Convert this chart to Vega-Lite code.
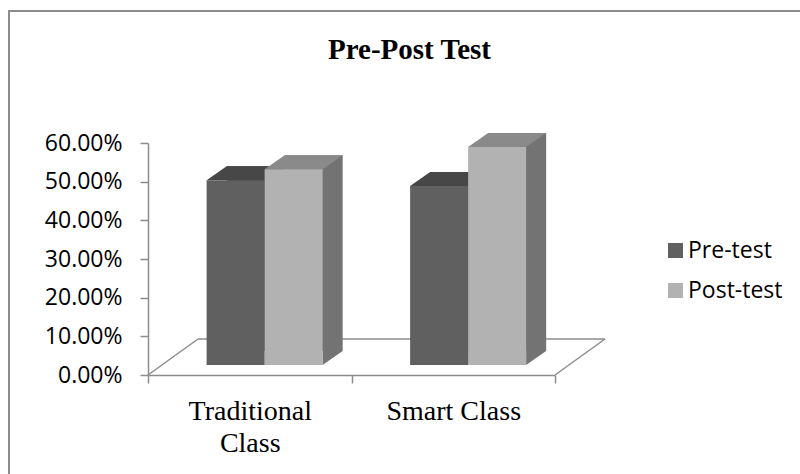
{
  "$schema": "https://vega.github.io/schema/vega-lite/v6.json",
  "width": 407,
  "height": 232,
  "autosize": "none",
  "padding": {"left": 148, "top": 143, "right": 245, "bottom": 99},
  "background": "white",
  "title": {"text": "Pre-Post Test", "font": "Liberation Serif", "fontSize": 29, "fontWeight": "bold", "color": "black", "anchor": "middle", "frame": "group", "dx": 58, "baseline": "alphabetic", "offset": -78},
  "config": {"view": {"stroke": null}, "axis": {"grid": false}},
  "data": {"values": [
    {"cat": "Traditional Class", "series": "Pre-test", "value": 0.478},
    {"cat": "Traditional Class", "series": "Post-test", "value": 0.506},
    {"cat": "Smart Class", "series": "Pre-test", "value": 0.463},
    {"cat": "Smart Class", "series": "Post-test", "value": 0.564}
  ]},
  "resolve": {"scale": {"x": "independent"}},
  "layer": [
    {
      "data": {"values": [{}]},
      "layer": [
        {
          "mark": {"type": "rect", "fill": "transparent", "stroke": "#8c8c8c", "strokeWidth": 2, "xOffset": -139, "x2Offset": 400, "yOffset": -132, "y2Offset": 200},
          "encoding": {
            "x": {"datum": 0, "type": "quantitative", "scale": {"domain": [0, 1]}, "axis": null},
            "x2": {"datum": 1},
            "y": {"datum": 0.6, "type": "quantitative", "scale": {"domain": [0, 0.6]},
              "axis": {"title": null, "format": ".2%", "values": [0, 0.1, 0.2, 0.3, 0.4, 0.5, 0.6], "labelOverlap": false, "labelFont": "Open Sans", "labelFontSize": 23, "labelColor": "black", "tickSize": 8, "tickColor": "#8c8c8c", "domainColor": "#8c8c8c", "domainWidth": 1.5, "tickWidth": 1.5, "labelPadding": 18}},
            "y2": {"datum": 0}
          }
        },
        {
          "mark": {"type": "rule", "color": "#8c8c8c", "strokeWidth": 1.5, "xOffset": 50, "x2Offset": 50, "yOffset": -36},
          "encoding": {
            "x": {"datum": 0, "type": "quantitative", "scale": {"domain": [0, 1]}, "axis": null},
            "x2": {"datum": 1},
            "y": {"datum": 0, "type": "quantitative", "scale": {"domain": [0, 0.6]},
              "axis": {"title": null, "format": ".2%", "values": [0, 0.1, 0.2, 0.3, 0.4, 0.5, 0.6], "labelOverlap": false, "labelFont": "Open Sans", "labelFontSize": 23, "labelColor": "black", "tickSize": 8, "tickColor": "#8c8c8c", "domainColor": "#8c8c8c", "domainWidth": 1.5, "tickWidth": 1.5, "labelPadding": 18}}
          }
        },
        {
          "mark": {"type": "rule", "color": "#8c8c8c", "strokeWidth": 1.5, "x2Offset": 50, "y2Offset": -36},
          "encoding": {
            "x": {"datum": 0, "type": "quantitative", "scale": {"domain": [0, 1]}, "axis": null},
            "x2": {"datum": 0},
            "y": {"datum": 0, "type": "quantitative", "scale": {"domain": [0, 0.6]},
              "axis": {"title": null, "format": ".2%", "values": [0, 0.1, 0.2, 0.3, 0.4, 0.5, 0.6], "labelOverlap": false, "labelFont": "Open Sans", "labelFontSize": 23, "labelColor": "black", "tickSize": 8, "tickColor": "#8c8c8c", "domainColor": "#8c8c8c", "domainWidth": 1.5, "tickWidth": 1.5, "labelPadding": 18}},
            "y2": {"datum": 0}
          }
        },
        {
          "mark": {"type": "rule", "color": "#8c8c8c", "strokeWidth": 1.5, "x2Offset": 50, "y2Offset": -36},
          "encoding": {
            "x": {"datum": 1, "type": "quantitative", "scale": {"domain": [0, 1]}, "axis": null},
            "x2": {"datum": 1},
            "y": {"datum": 0, "type": "quantitative", "scale": {"domain": [0, 0.6]},
              "axis": {"title": null, "format": ".2%", "values": [0, 0.1, 0.2, 0.3, 0.4, 0.5, 0.6], "labelOverlap": false, "labelFont": "Open Sans", "labelFontSize": 23, "labelColor": "black", "tickSize": 8, "tickColor": "#8c8c8c", "domainColor": "#8c8c8c", "domainWidth": 1.5, "tickWidth": 1.5, "labelPadding": 18}},
            "y2": {"datum": 0}
          }
        }
      ]
    },
    {
      "resolve": {"scale": {"xOffset": "independent"}},
      "encoding": {
        "x": {"field": "cat", "type": "nominal", "sort": ["Traditional Class", "Smart Class"], "scale": {"paddingInner": 0, "paddingOuter": 0},
          "axis": {"title": null, "labelFont": "Liberation Serif", "labelFontSize": 28, "labelColor": "black", "labelAngle": 0, "tickBand": "extent", "tickSize": 8, "tickColor": "#8c8c8c", "domainColor": "#8c8c8c", "domainWidth": 1.5, "tickWidth": 1.5, "labelPadding": 14, "labelLineHeight": 32,
            "labelExpr": "datum.label == 'Traditional Class' ? ['Traditional', 'Class'] : datum.label"}},
        "xOffset": {"field": "series", "type": "nominal", "sort": ["Pre-test", "Post-test"], "scale": {"type": "band", "domain": ["Pre-test", "Post-test"], "paddingInner": 0, "paddingOuter": 0.754, "align": 0.67}},
        "y": {"field": "value", "type": "quantitative", "scale": {"domain": [0, 0.6]},
          "axis": {"title": null, "format": ".2%", "values": [0, 0.1, 0.2, 0.3, 0.4, 0.5, 0.6], "labelOverlap": false, "labelFont": "Open Sans", "labelFontSize": 23, "labelColor": "black", "tickSize": 8, "tickColor": "#8c8c8c", "domainColor": "#8c8c8c", "domainWidth": 1.5, "tickWidth": 1.5, "labelPadding": 18}}
      },
      "layer": [
        {
          "transform": [{"filter": "datum.series == 'Pre-test'"}],
          "mark": {"type": "bar", "color": "#3e3e3e", "yOffset": -24, "y2Offset": -24},
          "encoding": {
            "xOffset": {"field": "series", "type": "nominal", "sort": ["Pre-test", "Post-test"], "scale": {"type": "band", "domain": ["Pre-test", "Post-test"], "paddingInner": 0, "paddingOuter": 0.754, "align": 0.899}},
            "y2": {"datum": 0}
          }
        },
        {
          "transform": [{"filter": "datum.series == 'Pre-test'"}],
          "mark": {"type": "point", "shape": "M29,-24L29,-10L49,-24Z", "size": 4, "filled": true, "color": "#3e3e3e", "opacity": 1, "strokeWidth": 0},
          "encoding": {"y": {"datum": 0, "type": "quantitative", "scale": {"domain": [0, 0.6]},
            "axis": {"title": null, "format": ".2%", "values": [0, 0.1, 0.2, 0.3, 0.4, 0.5, 0.6], "labelOverlap": false, "labelFont": "Open Sans", "labelFontSize": 23, "labelColor": "black", "tickSize": 8, "tickColor": "#8c8c8c", "domainColor": "#8c8c8c", "domainWidth": 1.5, "tickWidth": 1.5, "labelPadding": 18}}}
        },
        {
          "transform": [{"filter": "datum.series == 'Pre-test'"}],
          "mark": {"type": "point", "shape": "M-29,-10L29,-10L49,-24L-9,-24Z", "size": 4, "filled": true, "color": "#474747", "opacity": 1, "strokeWidth": 0}
        },
        {
          "transform": [{"filter": "datum.series == 'Pre-test'"}],
          "mark": {"type": "bar", "yOffset": -10, "y2Offset": -10},
          "encoding": {
            "y2": {"datum": 0},
            "color": {"field": "series", "type": "nominal", "sort": ["Pre-test", "Post-test"], "scale": {"domain": ["Pre-test", "Post-test"], "range": ["#606060", "#b2b2b2"]},
              "legend": {"title": null, "orient": "none", "legendX": 516, "legendY": 96, "symbolType": "square", "symbolSize": 225, "symbolStrokeWidth": 0, "symbolOpacity": 1, "labelFont": "Open Sans", "labelFontSize": 23, "labelColor": "black", "rowPadding": 16, "labelOffset": 1, "padding": 0}}
          }
        },
        {
          "transform": [{"filter": "datum.series == 'Post-test'"}],
          "mark": {"type": "bar", "color": "#737373", "yOffset": -24, "y2Offset": -24},
          "encoding": {
            "xOffset": {"field": "series", "type": "nominal", "sort": ["Pre-test", "Post-test"], "scale": {"type": "band", "domain": ["Pre-test", "Post-test"], "paddingInner": 0, "paddingOuter": 0.754, "align": 0.899}},
            "y2": {"datum": 0}
          }
        },
        {
          "transform": [{"filter": "datum.series == 'Post-test'"}],
          "mark": {"type": "point", "shape": "M29,-24L29,-10L49,-24Z", "size": 4, "filled": true, "color": "#737373", "opacity": 1, "strokeWidth": 0},
          "encoding": {"y": {"datum": 0, "type": "quantitative", "scale": {"domain": [0, 0.6]},
            "axis": {"title": null, "format": ".2%", "values": [0, 0.1, 0.2, 0.3, 0.4, 0.5, 0.6], "labelOverlap": false, "labelFont": "Open Sans", "labelFontSize": 23, "labelColor": "black", "tickSize": 8, "tickColor": "#8c8c8c", "domainColor": "#8c8c8c", "domainWidth": 1.5, "tickWidth": 1.5, "labelPadding": 18}}}
        },
        {
          "transform": [{"filter": "datum.series == 'Post-test'"}],
          "mark": {"type": "point", "shape": "M-29,-10L29,-10L49,-24L-9,-24Z", "size": 4, "filled": true, "color": "#8a8a8a", "opacity": 1, "strokeWidth": 0}
        },
        {
          "transform": [{"filter": "datum.series == 'Post-test'"}],
          "mark": {"type": "bar", "yOffset": -10, "y2Offset": -10},
          "encoding": {
            "y2": {"datum": 0},
            "color": {"field": "series", "type": "nominal", "sort": ["Pre-test", "Post-test"], "scale": {"domain": ["Pre-test", "Post-test"], "range": ["#606060", "#b2b2b2"]}}
          }
        }
      ]
    }
  ]
}
